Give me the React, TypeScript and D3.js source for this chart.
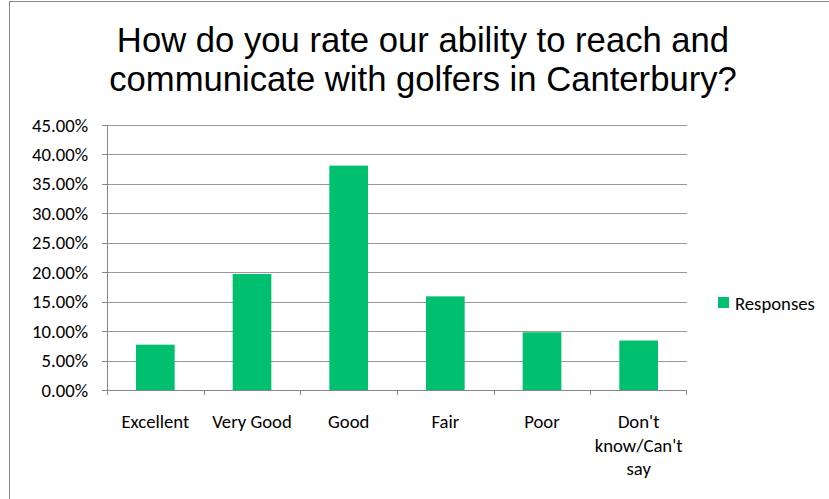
import React from "react";
import * as d3 from "d3";

const categories = ["Excellent", "Very Good", "Good", "Fair", "Poor", "Don't know/Can't say"];
const labelLines = [["Excellent"], ["Very Good"], ["Good"], ["Fair"], ["Poor"], ["Don't", "know/Can't", "say"]];
const responses = [0.077, 0.197, 0.381, 0.159, 0.098, 0.084];
const yTicks = [0, 0.05, 0.1, 0.15, 0.2, 0.25, 0.3, 0.35, 0.4, 0.45];
const titleLines = ["How do you rate our ability to reach and", "communicate with golfers in Canterbury?"];
const seriesName = "Responses";

const W = 829, H = 499;
const plot = { left: 107, right: 687, top: 125, bottom: 390 };
const green = "#00BF6F";
const font = "Carlito, Calibri, Lato, 'Open Sans', sans-serif";
const fs = 18.7;

export default function App() {
  const x = d3.scaleBand<string>().domain(categories).range([plot.left, plot.right]).paddingInner(0.6).paddingOuter(0.3);
  const xb = d3.scaleBand<string>().domain(categories).range([plot.left, plot.right]);
  const y = d3.scaleLinear().domain([0, 0.45]).range([plot.bottom, plot.top]);
  const fmt = (v: number) => (v * 100).toFixed(2) + "%";
  return (
    <div style={{ position: "fixed", left: 0, top: 0, width: W, height: H, background: "#fff" }}>
      <svg width={W} height={H} style={{ display: "block" }}>
        <rect x={9.5} y={1.5} width={W} height={H} fill="#fff" stroke="#888" strokeWidth={1} />
        {titleLines.map((t, i) => (
          <text key={i} transform={`translate(423,${52 + i * 39}) scale(0.99,1)`} textAnchor="middle" fontFamily="'Liberation Sans', Arial, sans-serif" fontSize={35} fill="#000">{t}</text>
        ))}
        {yTicks.map((t) => (
          <g key={t}>
            {t > 0 && <line x1={plot.left} x2={plot.right} y1={Math.round(y(t)) + 0.5} y2={Math.round(y(t)) + 0.5} stroke="#999" strokeWidth={1} />}
            <line x1={plot.left - 5} x2={plot.left} y1={Math.round(y(t)) + 0.5} y2={Math.round(y(t)) + 0.5} stroke="#868686" strokeWidth={1} />
            <text x={88} y={y(t) + 6.6} textAnchor="end" fontFamily={font} fontSize={fs} fill="#000">{fmt(t)}</text>
          </g>
        ))}
        {categories.map((c, i) => (
          <rect key={c} x={x(c)} y={y(responses[i])} width={x.bandwidth()} height={y(0) - y(responses[i])} fill={green} />
        ))}
        <line x1={plot.left + 0.5} x2={plot.left + 0.5} y1={plot.top} y2={plot.bottom} stroke="#868686" strokeWidth={1} />
        <line x1={plot.left} x2={plot.right} y1={plot.bottom + 0.5} y2={plot.bottom + 0.5} stroke="#868686" strokeWidth={1} />
        {categories.map((c) => (
          <line key={"t" + c} x1={Math.round(xb(c)!) + 0.5} x2={Math.round(xb(c)!) + 0.5} y1={plot.bottom} y2={plot.bottom + 5} stroke="#868686" />
        ))}
        <line x1={plot.right - 0.5} x2={plot.right - 0.5} y1={plot.bottom} y2={plot.bottom + 5} stroke="#868686" />
        {categories.map((c, i) => (
          <text key={"l" + c} x={xb(c)! + xb.bandwidth() / 2} textAnchor="middle" fontFamily={font} fontSize={fs} fill="#000">
            {labelLines[i].map((ln, j) => (
              <tspan key={j} x={xb(c)! + xb.bandwidth() / 2} y={428 + j * 23.5}>{ln}</tspan>
            ))}
          </text>
        ))}
        <rect x={718} y={297} width={11} height={11} fill={green} />
        <text x={735} y={310} fontFamily={font} fontSize={fs} fill="#000">{seriesName}</text>
      </svg>
    </div>
  );
}
